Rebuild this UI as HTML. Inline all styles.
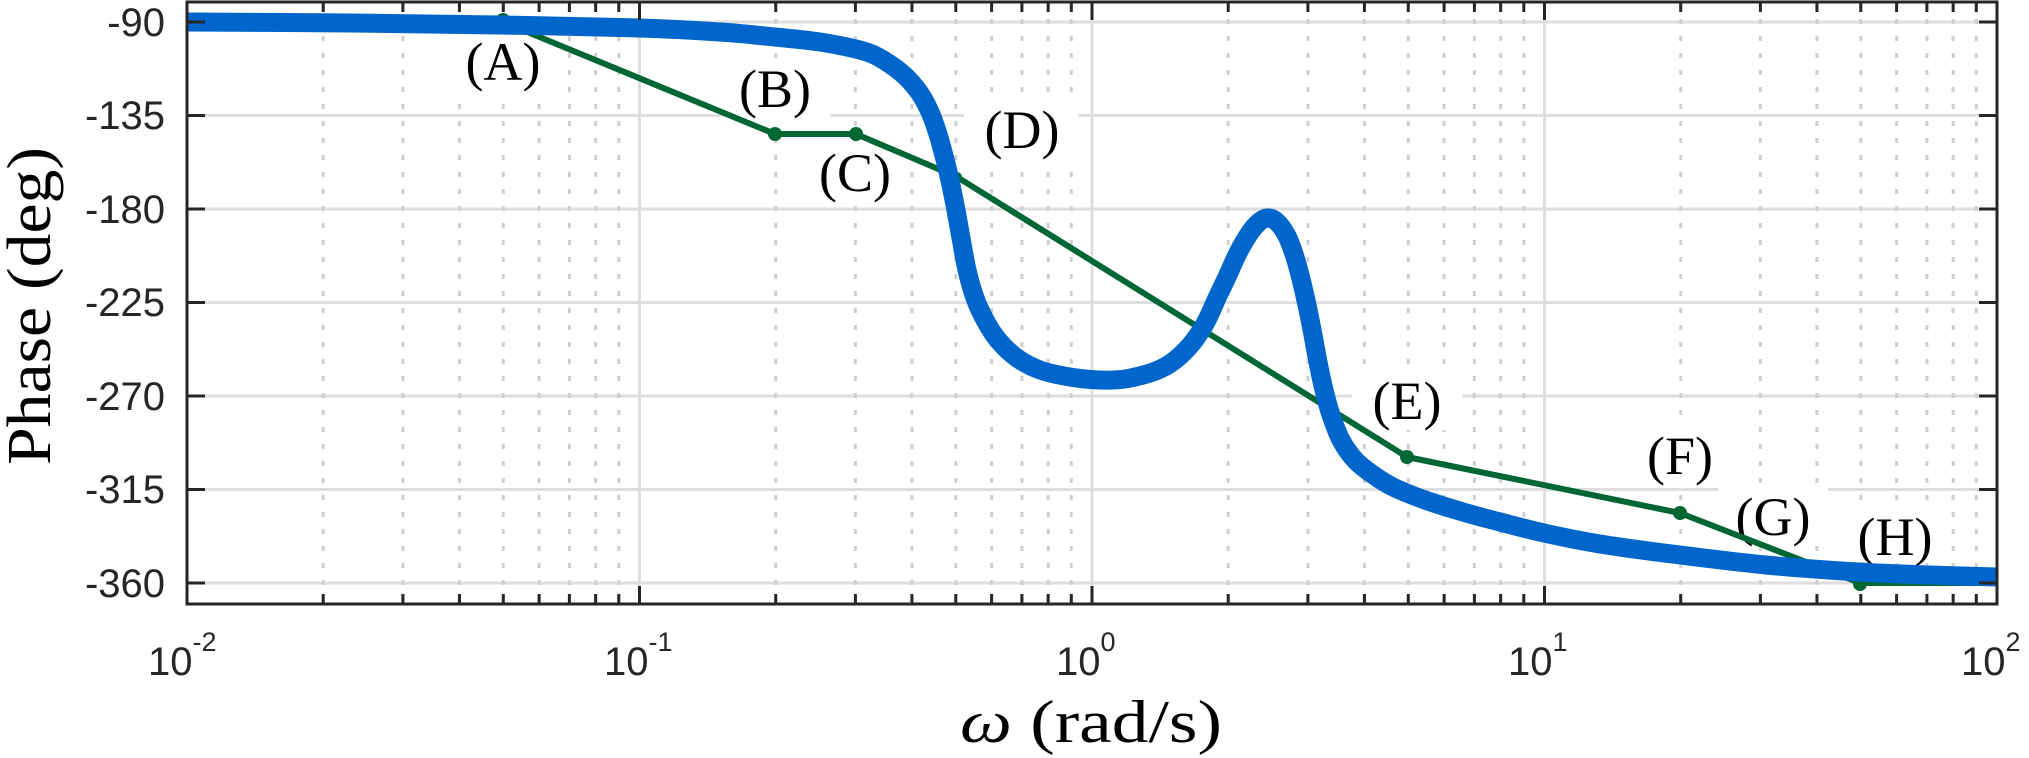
<!DOCTYPE html>
<html><head><meta charset="utf-8"><style>
html,body{margin:0;padding:0;background:#fff;}
svg{display:block;}
.tk{font-family:"Liberation Sans",sans-serif;font-size:40px;fill:#262626;}
.lb{font-family:"Liberation Serif",serif;font-size:54px;fill:#000;}
</style></head><body>
<svg id="s" width="2029" height="758" viewBox="0 0 2029 758" xmlns="http://www.w3.org/2000/svg">
<g id="grid"></g>
<g fill="#fff">
<rect x="452" y="30" width="102" height="70"/>
<rect x="722" y="58" width="108" height="68"/>
<rect x="800" y="142" width="110" height="62"/>
<rect x="964" y="98" width="114" height="62"/>
<rect x="1352" y="368" width="110" height="62"/>
<rect x="1628" y="424" width="106" height="60"/>
<rect x="1718" y="486" width="110" height="58"/>
<rect x="1840" y="506" width="110" height="56"/>
</g>
<g class="lb" text-anchor="middle">
<text x="503" y="80">(A)</text>
<text x="775" y="107">(B)</text>
<text x="855" y="191">(C)</text>
<text x="1022" y="148">(D)</text>
<text x="1407" y="419">(E)</text>
<text x="1680" y="474">(F)</text>
<text x="1773" y="535">(G)</text>
<text x="1895" y="555">(H)</text>
</g>
<polyline fill="none" stroke="#006633" stroke-width="6" stroke-linejoin="round" points="187,22 503,22 775,134 856,134 957,177 1407,457 1680,513 1860,583 1997,583"/>
<g fill="#006633">
<circle cx="503" cy="20" r="7"/><circle cx="775" cy="134" r="7"/><circle cx="856" cy="134" r="7"/>
<circle cx="957" cy="177" r="5"/><circle cx="1407" cy="457" r="7"/><circle cx="1680" cy="513" r="7"/><circle cx="1860" cy="584" r="7"/>
</g>
<path id="blue" fill="none" stroke="#0066CC" stroke-width="19" stroke-linejoin="round" d=""/>
<g id="axes"></g>
<g class="tk" text-anchor="end">
<text x="165" y="36">-90</text>
<text x="165" y="129">-135</text>
<text x="165" y="223">-180</text>
<text x="165" y="316">-225</text>
<text x="165" y="410">-270</text>
<text x="165" y="503">-315</text>
<text x="165" y="597">-360</text>
</g>
<g class="tk">
<text x="148" y="675">10<tspan font-size="27" dy="-24">-2</tspan></text>
<text x="604" y="675">10<tspan font-size="27" dy="-24">-1</tspan></text>
<text x="1056" y="675">10<tspan font-size="27" dy="-24">0</tspan></text>
<text x="1508" y="675">10<tspan font-size="27" dy="-24">1</tspan></text>
<text x="1961" y="675">10<tspan font-size="27" dy="-24">2</tspan></text>
</g>
<text x="960" y="742" textLength="262" lengthAdjust="spacingAndGlyphs" style="font-family:'Liberation Serif',serif;font-size:60px;fill:#000"><tspan font-style="italic">ω</tspan> (rad/s)</text>
<text transform="translate(50,465) rotate(-90)" textLength="318" lengthAdjust="spacingAndGlyphs" style="font-family:'Liberation Serif',serif;font-size:62px;fill:#000">Phase (deg)</text>
</svg>
<script>
var NS="http://www.w3.org/2000/svg";
function el(p,t,a){var e=document.createElementNS(NS,t);for(var k in a)e.setAttribute(k,a[k]);p.appendChild(e);return e;}
var g=document.getElementById("grid"),ax=document.getElementById("axes");
var L=187,R=1997,T=2,B=604,D=452.5;
for(var k=0;k<7;k++){var y=22+93.5*k;el(g,"line",{x1:L,x2:R,y1:y,y2:y,stroke:"#dedede","stroke-width":3});
el(ax,"line",{x1:L,x2:L+18,y1:y,y2:y,stroke:"#262626","stroke-width":3});
el(ax,"line",{x1:R-18,x2:R,y1:y,y2:y,stroke:"#262626","stroke-width":3});}
for(var d=0;d<4;d++){for(var m=1;m<10;m++){var x=L+D*(d+Math.log10(m));
if(m==1){if(d>0)el(g,"line",{x1:x,x2:x,y1:T,y2:B,stroke:"#dedede","stroke-width":3});
el(ax,"line",{x1:x,x2:x,y1:B,y2:B-18,stroke:"#262626","stroke-width":3});
el(ax,"line",{x1:x,x2:x,y1:T,y2:T+18,stroke:"#262626","stroke-width":3});}
else{el(g,"line",{x1:x,x2:x,y1:T,y2:B,stroke:"#cfcfcf","stroke-width":3,"stroke-dasharray":"5 12"});
el(ax,"line",{x1:x,x2:x,y1:B,y2:B-10,stroke:"#262626","stroke-width":3});
el(ax,"line",{x1:x,x2:x,y1:T,y2:T+10,stroke:"#262626","stroke-width":3});}}}
el(ax,"rect",{x:L,y:T,width:R-L,height:B-T,fill:"none",stroke:"#262626","stroke-width":3});
var P=[[187,22],[350,23],[500,25],[640,28],[720,32],[775,37],[820,42],[856,49],[872,54],[885,61],[898,70],[910,81],[921,95],[930,112],[937,131],[943,152],[949,176],[955,205],[961,238],[967,270],[975,298],[985,320],[998,340],[1017,358],[1040,370],[1070,377],[1100,380],[1125,379],[1150,373],[1168,365],[1183,353],[1196,338],[1207,320],[1217,298],[1227,277],[1237,255],[1247,237],[1257,224],[1267,218],[1277,222],[1287,236],[1294,254],[1300,275],[1307,305],[1313,335],[1318,362],[1324,390],[1331,415],[1341,440],[1355,460],[1372,474],[1393,487],[1425,500],[1463,512],[1500,522],[1544,533],[1600,544],[1672,554],[1766,565],[1859,572],[1930,575],[1997,577]];
var s="M"+P[0][0]+","+P[0][1];
for(var i=0;i<P.length-1;i++){var p0=P[Math.max(i-1,0)],p1=P[i],p2=P[i+1],p3=P[Math.min(i+2,P.length-1)];
s+=" C"+(p1[0]+(p2[0]-p0[0])/6).toFixed(1)+","+(p1[1]+(p2[1]-p0[1])/6).toFixed(1)+" "+(p2[0]-(p3[0]-p1[0])/6).toFixed(1)+","+(p2[1]-(p3[1]-p1[1])/6).toFixed(1)+" "+p2[0]+","+p2[1];}
document.getElementById("blue").setAttribute("d",s);
</script>
</body></html>
